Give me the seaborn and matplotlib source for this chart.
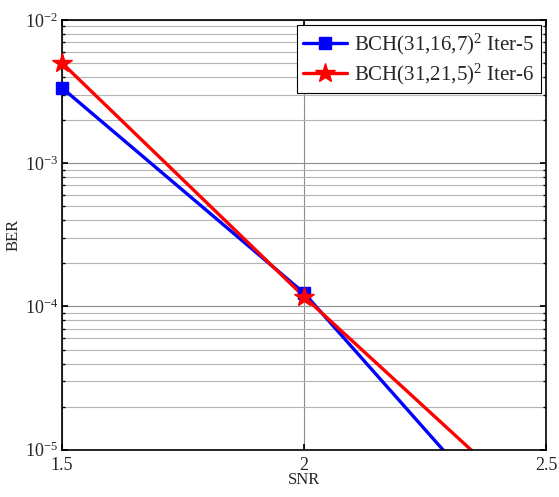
import numpy as np
import pandas as pd
import matplotlib
matplotlib.use("Agg")
import matplotlib.pyplot as plt
import seaborn as sns
from matplotlib.ticker import LogLocator, NullFormatter

snr = [1.5, 2.0, 2.5]
ber_16 = [3.35e-3, 1.24e-4, 1.54e-6]
ber_21 = [5.0e-3, 1.17e-4, 3.3e-6]
labels = [r"BCH(31,16,7)$^2$ Iter-5", r"BCH(31,21,5)$^2$ Iter-6"]

sns.set_theme(style="ticks")
plt.rcParams["font.family"] = ["Liberation Serif", "DejaVu Serif"]
plt.rcParams["mathtext.fontset"] = "custom"
plt.rcParams["mathtext.rm"] = "Liberation Serif"
plt.rcParams["mathtext.it"] = "Liberation Serif:italic"

fig = plt.figure(figsize=(5.59, 4.97), dpi=100)
ax = fig.add_axes([0.111, 0.095, 0.866, 0.865])

df = pd.DataFrame({"SNR": snr, "a": ber_16, "b": ber_21})
sns.lineplot(data=df, x="SNR", y="a", ax=ax, color="blue", lw=2.4,
             marker="s", markersize=8, markeredgecolor="blue", label=labels[0])
sns.lineplot(data=df, x="SNR", y="b", ax=ax, color="red", lw=2.4,
             marker="*", markersize=15, markeredgecolor="red", label=labels[1])

# keep the end markers visible at the axis edge, lines still clipped
for ln in ax.get_lines():
    xs, ys = ln.get_data()
    ax.plot(xs, ys, ls="none", marker=ln.get_marker(), markersize=ln.get_markersize(),
            color=ln.get_color(), clip_on=False, zorder=3)
    ln.set_marker("None")

ax.set_yscale("log")
ax.set_xlim(1.5, 2.5)
ax.set_ylim(1e-5, 1e-2)
ax.set_xticks([1.5, 2, 2.5])
ax.set_xticklabels(["1.5", "2", "2.5"])
ax.yaxis.set_major_locator(LogLocator(base=10, numticks=10))
ax.yaxis.set_minor_locator(LogLocator(base=10, subs=np.arange(2, 10), numticks=20))
ax.yaxis.set_minor_formatter(NullFormatter())

ax.grid(True, which="major", axis="both", color="#8c8c8c", lw=0.8)
ax.grid(True, which="minor", axis="y", color="#b4b4b4", lw=0.8)
ax.set_axisbelow(True)

ax.tick_params(which="both", direction="in", top=True, right=True, labelsize=13,
               color="black")
ax.tick_params(axis="x", pad=5)
ax.tick_params(axis="y", pad=3)
ax.tick_params(which="major", length=4)
ax.tick_params(which="minor", length=2.5)
for s in ax.spines.values():
    s.set_color("black")
    s.set_linewidth(1.2)

ax.set_xlabel("SNR", fontsize=12, labelpad=-1)
ax.set_ylabel("BER", fontsize=12, labelpad=2)

handles = [plt.Line2D([], [], color="blue", lw=2.4, marker="s", markersize=8),
           plt.Line2D([], [], color="red", lw=2.4, marker="*", markersize=15)]
leg = ax.legend(handles, labels, loc="upper right", fontsize=15, frameon=True,
                fancybox=False, edgecolor="black", framealpha=1, handlelength=2.1,
                borderaxespad=0.25, borderpad=0.3, labelspacing=0.25,
                handletextpad=0.35)
leg.get_frame().set_linewidth(0.8)

fig.savefig("out.png", dpi=100)
